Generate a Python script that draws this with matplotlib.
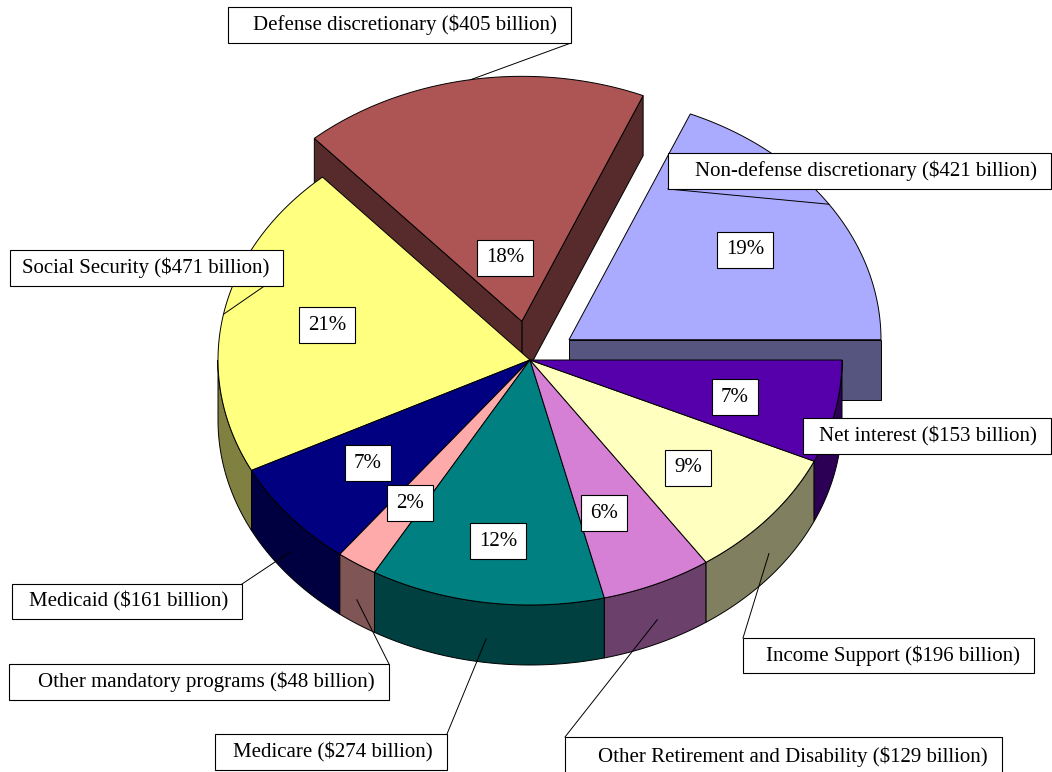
import numpy as np
import matplotlib
matplotlib.use('Agg')
import matplotlib.pyplot as plt
from matplotlib.patches import Polygon, Rectangle

# slices in counter-clockwise order starting at 3 o'clock
categories = ['Non-defense discretionary', 'Defense discretionary', 'Social Security',
              'Medicaid', 'Other mandatory programs', 'Medicare',
              'Other Retirement and Disability', 'Income Support', 'Net interest']
values = [421, 405, 471, 161, 48, 274, 129, 196, 153]
top_colors = ['#AAAAFF', '#AD5555', '#FFFF80', '#000080', '#FFAAAA',
              '#008080', '#D580D5', '#FFFFC0', '#5500AA']
explode = [0.15, 0.16, 0, 0, 0, 0, 0, 0, 0]

# label boxes (x0, y0, x1, y1) in pixels, and the corner the leader starts from
label_boxes = [(668, 153, 1051, 189), (228, 7, 571, 43), (10, 250, 283, 286),
               (12, 584, 242, 619), (9, 664, 389, 700), (215, 734, 447, 770),
               (565, 737, 1002, 776), (743, 638, 1034, 673), (803, 418, 1051, 454)]
leader_from = [(668, 189), (571, 43), (263, 287), (242, 584), (389, 664),
               (447, 734), (565, 737), (743, 638), None]
pct_xy = [(745, 250), (505, 258), (327, 325), (368, 463), (410, 503),
          (498, 541), (604, 513), (688, 468), (735, 397)]

W, H = 1052, 772
cx, cy = 530, 360
rx, ry = 312, 245
depth = 60
font = 'Liberation Serif'
fs = 15

total = sum(values)
edges = np.concatenate([[0], np.cumsum(values) / total * 360])


def pt(th, off=(0, 0), dy=0):
    t = np.radians(th)
    return cx + rx * np.cos(t) + off[0], cy - ry * np.sin(t) + off[1] + dy


def arc(a, b, off=(0, 0), dy=0, n=80):
    ths = np.linspace(a, b, n)
    return [pt(t, off, dy) for t in ths]


def darker(c):
    rgb = np.array(matplotlib.colors.to_rgb(c))
    return tuple(rgb * 0.5)


fig = plt.figure(figsize=(W / 100, H / 100), dpi=100)
ax = fig.add_axes([0, 0, 1, 1])
ax.set_xlim(0, W)
ax.set_ylim(H, 0)
ax.axis('off')

offs = []
for i in range(len(values)):
    mid = np.radians((edges[i] + edges[i + 1]) / 2)
    offs.append((explode[i] * rx * np.cos(mid), -explode[i] * ry * np.sin(mid)))

lw = 0.7
# side walls first (painter's order)
for i in range(len(values)):
    a, b = edges[i], edges[i + 1]
    off = offs[i]
    side = darker(top_colors[i])
    if explode[i] > 0:
        apex = (cx + off[0], cy + off[1])
        for th, visible in ((a, np.cos(np.radians(a)) > 1e-9 or a == 0),
                            (b, np.cos(np.radians(b)) < 0)):
            if visible:
                p = pt(th, off)
                quad = [apex, p, (p[0], p[1] + depth), (apex[0], apex[1] + depth)]
                ax.add_patch(Polygon(quad, closed=True, fc=side, ec='black', lw=lw))
    lo, hi = max(a, 180), min(b, 360)
    if hi > lo:
        pts = arc(lo, hi, off) + arc(hi, lo, off, depth)
        ax.add_patch(Polygon(pts, closed=True, fc=side, ec='black', lw=lw))

# top faces
for i in range(len(values)):
    off = offs[i]
    apex = (cx + off[0], cy + off[1])
    pts = [apex] + arc(edges[i], edges[i + 1], off)
    ax.add_patch(Polygon(pts, closed=True, fc=top_colors[i], ec='black', lw=lw))

# percentage labels
for i, v in enumerate(values):
    ax.text(pct_xy[i][0], pct_xy[i][1], f'{round(100 * v / total)}%',
            ha='center', va='center', fontsize=fs, family=font,
            bbox=dict(boxstyle='square,pad=0.43', fc='white', ec='black', lw=0.8))

# category labels with leader lines
for i, (cat, v) in enumerate(zip(categories, values)):
    x0, y0, x1, y1 = label_boxes[i]
    if leader_from[i] is not None:
        mid = (edges[i] + edges[i + 1]) / 2
        front = np.sin(np.radians(mid)) < 0
        anchor = pt(mid, offs[i], depth * 0.6 if front else 0)
        ax.plot([leader_from[i][0], anchor[0]], [leader_from[i][1], anchor[1]],
                color='black', lw=0.7, zorder=5)
    ax.add_patch(Rectangle((x0, y0), x1 - x0, y1 - y0, fc='white', ec='black',
                           lw=0.8, zorder=6))
    ax.text(x1 - 14, (y0 + y1) / 2, f'{cat} (\\${v} billion)', ha='right', va='center',
            fontsize=fs, family=font, zorder=7)

fig.savefig('out.png', dpi=100)
